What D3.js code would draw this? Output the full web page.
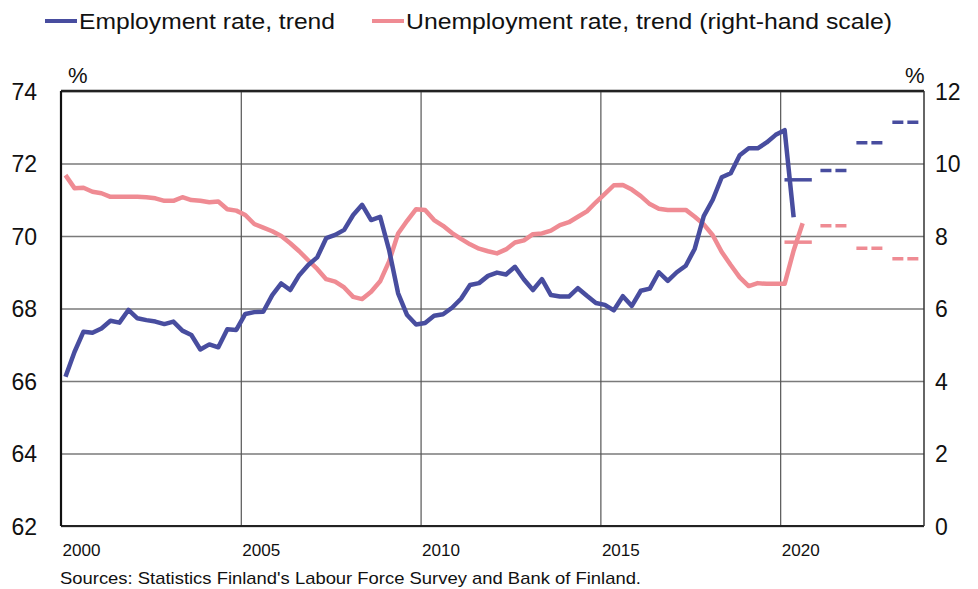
<!DOCTYPE html>
<html>
<head>
<meta charset="utf-8">
<script src="https://cdn.jsdelivr.net/npm/d3@7"></script>
<style>
  body { margin: 0; background: #fff; }
  text { font-family: "Liberation Sans", Arial, sans-serif; fill: #111; }
</style>
</head>
<body>
<script>
// quarterly trend series, first point = 2000 Q1
var startYear = 2000
var employment = [66.12, 66.80, 67.36, 67.33, 67.45, 67.66, 67.61, 67.96, 67.73, 67.68,
  67.64, 67.57, 67.64, 67.39, 67.27, 66.87, 67.01, 66.93, 67.43, 67.41,
  67.85, 67.90, 67.91, 68.37, 68.69, 68.51, 68.92, 69.20, 69.41, 69.94,
  70.03, 70.17, 70.58, 70.86, 70.44, 70.53, 69.61, 68.42, 67.82, 67.56,
  67.60, 67.80, 67.84, 68.02, 68.27, 68.65, 68.70, 68.90, 68.99, 68.94,
  69.15, 68.80, 68.51, 68.81, 68.37, 68.33, 68.33, 68.56, 68.35, 68.15,
  68.10, 67.95, 68.34, 68.07, 68.49, 68.55, 69.00, 68.76, 69.00, 69.18,
  69.65, 70.55, 71.00, 71.62, 71.73, 72.23, 72.42, 72.42, 72.58, 72.79,
  72.92, 70.52]
var unemployment = [9.68, 9.32, 9.33, 9.22, 9.18, 9.08, 9.08, 9.08, 9.08, 9.07,
  9.04, 8.97, 8.97, 9.07, 8.99, 8.97, 8.93, 8.95, 8.74, 8.70,
  8.58, 8.33, 8.23, 8.13, 8.00, 7.80, 7.58, 7.33, 7.09, 6.81,
  6.74, 6.58, 6.32, 6.26, 6.46, 6.75, 7.30, 8.07, 8.42, 8.74,
  8.72, 8.44, 8.28, 8.08, 7.92, 7.77, 7.65, 7.58, 7.52, 7.63,
  7.82, 7.88, 8.05, 8.07, 8.15, 8.30, 8.38, 8.53, 8.68, 8.93,
  9.16, 9.40, 9.41, 9.28, 9.10, 8.88, 8.75, 8.72, 8.72, 8.72,
  8.53, 8.32, 8.02, 7.56, 7.20, 6.86, 6.62, 6.70, 6.68, 6.68,
  6.68, 7.60, 8.35]

// annual forecasts (Bank of Finland)
var forecastYears = [2020, 2021, 2022, 2023]
var employmentForecast = [71.55, 71.81, 72.57, 73.14]
var unemploymentForecast = [7.83, 8.28, 7.66, 7.37]

var xTicks = [2000, 2005, 2010, 2015, 2020]
var leftTicks = [62, 64, 66, 68, 70, 72, 74]
var rightTicks = [0, 2, 4, 6, 8, 10, 12]

var blue = "#484d9f"
var pink = "#ef8b93"

var width = 978, height = 589
var margin = {top: 91, right: 54, bottom: 63, left: 61}
var w = width - margin.left - margin.right
var h = height - margin.top - margin.bottom

var svg = d3.select("body").append("svg").attr("width", width).attr("height", height)
var main = svg.append("g").attr("transform", "translate(" + margin.left + "," + margin.top + ")")

var x = d3.scaleLinear().domain([2000, 2024]).range([0, w])
var yL = d3.scaleLinear().domain([62, 74]).range([h, 0])
var yR = d3.scaleLinear().domain([0, 12]).range([h, 0])

function qTime(i) { return startYear + 0.125 + i * 0.25 }

// horizontal grid
main.append("g").call(d3.axisLeft(yL).tickValues(leftTicks).tickSize(-w).tickFormat(""))
  .call(function(g) {
    g.select(".domain").remove()
    g.selectAll("line").attr("stroke", "#7a7a7a").attr("stroke-width", 1.7)
  })
// vertical grid
main.append("g").attr("transform", "translate(0," + h + ")")
  .call(d3.axisBottom(x).tickValues([2005, 2010, 2015, 2020]).tickSize(-h).tickFormat(""))
  .call(function(g) {
    g.select(".domain").remove()
    g.selectAll("line").attr("stroke", "#555").attr("stroke-width", 1.2)
  })

// frame
main.append("line").attr("x1", 0).attr("x2", w).attr("y1", 0).attr("y2", 0).attr("stroke", "#222").attr("stroke-width", 2.5)
main.append("line").attr("x1", 0).attr("x2", w).attr("y1", h).attr("y2", h).attr("stroke", "#222").attr("stroke-width", 2.2)
main.append("line").attr("x1", 0).attr("x2", 0).attr("y1", 0).attr("y2", h).attr("stroke", "#111").attr("stroke-width", 2.2)
main.append("line").attr("x1", w).attr("x2", w).attr("y1", 0).attr("y2", h).attr("stroke", "#333").attr("stroke-width", 1.5)

// tick labels
main.append("g").call(d3.axisLeft(yL).tickValues(leftTicks).tickSize(0).tickPadding(24))
  .call(function(g) {
    g.select(".domain").remove()
    g.selectAll("text").style("font-size", "23px").style("font-family", "Liberation Sans, Arial, sans-serif").attr("fill", "#111").attr("dy", "0.35em")
  })
main.append("g").attr("transform", "translate(" + w + ",0)")
  .call(d3.axisRight(yR).tickValues(rightTicks).tickSize(0).tickPadding(11))
  .call(function(g) {
    g.select(".domain").remove()
    g.selectAll("text").style("font-size", "23px").style("font-family", "Liberation Sans, Arial, sans-serif").attr("fill", "#111").attr("dy", "0.35em")
  })
main.append("g").attr("transform", "translate(0," + h + ")")
  .call(d3.axisBottom(x).tickValues(xTicks).tickSize(0).tickPadding(0).tickFormat(d3.format("d")))
  .call(function(g) {
    g.select(".domain").remove()
    g.selectAll("text").style("font-size", "17px").style("font-family", "Liberation Sans, Arial, sans-serif")
      .attr("fill", "#111").attr("text-anchor", "start").attr("x", 1).attr("y", 30).attr("dy", 0)
      .attr("textLength", 38).attr("lengthAdjust", "spacingAndGlyphs")
  })

svg.append("text").attr("x", 68).attr("y", 83).style("font-size", "22px").text("%")
svg.append("text").attr("x", 905).attr("y", 83).style("font-size", "22px").text("%")

// series
var lineL = d3.line().x(function(d, i) { return x(qTime(i)) }).y(function(d) { return yL(d) })
var lineR = d3.line().x(function(d, i) { return x(qTime(i)) }).y(function(d) { return yR(d) })

main.append("path").datum(unemployment).attr("d", lineR).attr("fill", "none")
  .attr("stroke", pink).attr("stroke-width", 4.5).attr("stroke-linejoin", "round")
main.append("path").datum(employment).attr("d", lineL).attr("fill", "none")
  .attr("stroke", blue).attr("stroke-width", 4.5).attr("stroke-linejoin", "round")

// forecast segments
function forecast(values, scale, color) {
  main.append("g").selectAll("line").data(values).enter().append("line")
    .attr("x1", function(d, i) { return x(forecastYears[i] + 0.12) })
    .attr("x2", function(d, i) { return x(forecastYears[i] + 0.88) })
    .attr("y1", function(d) { return scale(d) })
    .attr("y2", function(d) { return scale(d) })
    .attr("stroke", color).attr("stroke-width", 3.5)
    .attr("stroke-dasharray", function(d, i) { return i == 0 ? null : "11,4" })
}
forecast(unemploymentForecast, yR, pink)
forecast(employmentForecast, yL, blue)

// legend
var legend = [
  {label: "Employment rate, trend", color: blue, x: 45, len: 256},
  {label: "Unemployment rate, trend (right-hand scale)", color: pink, x: 372, len: 486}
]
legend.forEach(function(l) {
  svg.append("line").attr("x1", l.x).attr("x2", l.x + 32).attr("y1", 21).attr("y2", 21)
    .attr("stroke", l.color).attr("stroke-width", 4)
  svg.append("text").attr("x", l.x + 34).attr("y", 29).style("font-size", "22px")
    .attr("textLength", l.len).attr("lengthAdjust", "spacingAndGlyphs").text(l.label)
})

svg.append("text").attr("x", 60).attr("y", 584).style("font-size", "17px")
  .attr("textLength", 581).attr("lengthAdjust", "spacingAndGlyphs")
  .text("Sources: Statistics Finland's Labour Force Survey and Bank of Finland.")
</script>
</body>
</html>
